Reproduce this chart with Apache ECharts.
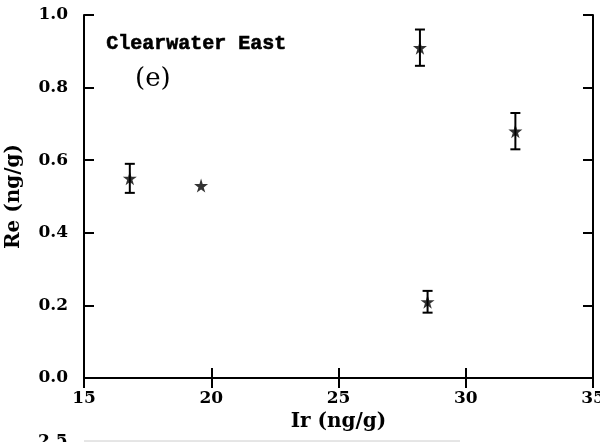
<!DOCTYPE html>
<html>
<head>
<meta charset="utf-8">
<script src="https://cdn.jsdelivr.net/npm/echarts@6/dist/echarts.min.js"></script>
<style>html,body{margin:0;padding:0;background:#fff}#c{width:600px;height:442px}</style>
</head>
<body>
<div id="c"></div>
<script>
// Data
var irValues = [16.8, 19.6, 28.2, 28.5, 31.95];
var reValues = [0.55, 0.53, 0.91, 0.21, 0.68];
var reLow    = [0.51, null, 0.86, 0.18, 0.63];
var reHigh   = [0.59, null, 0.96, 0.24, 0.73];
var xTicks = [15, 20, 25, 30, 35];
var yTicks = [0.0, 0.2, 0.4, 0.6, 0.8, 1.0];
var siteLabel = 'Clearwater East';
var panelLabel = '(e)';
var xName = 'Ir (ng/g)';
var yName = 'Re (ng/g)';

var points = irValues.map(function (x, i) { return [x, reValues[i]]; });
var bars = [];
irValues.forEach(function (x, i) {
  if (reLow[i] != null) bars.push([x, reLow[i], reHigh[i]]);
});

var star = 'path://M50,0 L61,35 L98,35 L68,57 L79,91 L50,70 L21,91 L32,57 L2,35 L39,35 Z';
var serifBold = {fontFamily: 'DejaVu Serif', fontWeight: 'bold', fontSize: 17, color: '#000'};
var axisLine = {show: true, lineStyle: {color: '#000', width: 2}};
var tick = {show: true, inside: true, length: 10, lineStyle: {color: '#000', width: 2}};

var chart = echarts.init(document.getElementById('c'), null, {renderer: 'canvas'});
chart.setOption({
  animation: false,
  backgroundColor: '#fff',
  grid: {left: 84, right: 7, top: 15, bottom: 64, containLabel: false, outerBoundsMode: 'none'},
  xAxis: [{
    type: 'value', min: xTicks[0], max: xTicks[xTicks.length - 1], interval: 5,
    position: 'bottom',
    axisLine: axisLine, axisTick: tick, splitLine: {show: false},
    axisLabel: Object.assign({margin: 12, hideOverlap: false, formatter: function (v) { return String(v); }}, serifBold),
    name: xName, nameLocation: 'middle', nameGap: 31,
    nameTextStyle: Object.assign({}, serifBold, {fontSize: 20})
  }, {
    type: 'value', min: xTicks[0], max: xTicks[xTicks.length - 1], interval: 5,
    position: 'top',
    axisLine: axisLine, axisTick: tick, splitLine: {show: false},
    axisLabel: {show: false}
  }],
  yAxis: [{
    type: 'value', min: 0, max: 1.0, interval: 0.2,
    position: 'left',
    axisLine: axisLine, axisTick: tick, splitLine: {show: false},
    axisLabel: Object.assign({margin: 16, formatter: function (v) { return v.toFixed(1); }}, serifBold),
    name: yName, nameLocation: 'middle', nameGap: 60, nameRotate: 90,
    nameTextStyle: Object.assign({}, serifBold, {fontSize: 20})
  }, {
    type: 'value', min: 0, max: 1.0, interval: 0.2,
    position: 'right',
    axisLine: axisLine, axisTick: tick, splitLine: {show: false},
    axisLabel: {show: false}
  }],
  graphic: [
    {type: 'text', left: 106, top: 34, style: {text: siteLabel, fontFamily: 'Liberation Mono', fontWeight: 'bold', fontSize: 20, fill: '#000', stroke: '#000', lineWidth: 0.6}},
    {type: 'text', left: 135, top: 66, style: {text: panelLabel, fontFamily: 'DejaVu Serif', fontSize: 26, fill: '#000'}},
    {type: 'text', left: 38, top: 433, style: {text: '2.5', fontFamily: 'DejaVu Serif', fontWeight: 'bold', fontSize: 17, fill: '#000'}},
    {type: 'line', shape: {x1: 84, y1: 441, x2: 460, y2: 441}, style: {stroke: '#ccc', lineWidth: 1}}
  ],
  series: [{
    type: 'custom',
    xAxisIndex: 0, yAxisIndex: 0,
    data: bars,
    renderItem: function (params, api) {
      var x = api.value(0);
      var lo = api.coord([x, api.value(1)]);
      var hi = api.coord([x, api.value(2)]);
      var w = 5;
      var s = {stroke: '#000', lineWidth: 2};
      return {type: 'group', children: [
        {type: 'line', shape: {x1: lo[0], y1: lo[1], x2: hi[0], y2: hi[1]}, style: s},
        {type: 'line', shape: {x1: lo[0] - w, y1: lo[1], x2: lo[0] + w, y2: lo[1]}, style: s},
        {type: 'line', shape: {x1: hi[0] - w, y1: hi[1], x2: hi[0] + w, y2: hi[1]}, style: s}
      ]};
    },
    silent: true
  }, {
    type: 'scatter',
    xAxisIndex: 0, yAxisIndex: 0,
    data: points,
    symbol: star, symbolSize: 14,
    itemStyle: {color: '#000'},
    silent: true
  }]
});
</script>
</body>
</html>
